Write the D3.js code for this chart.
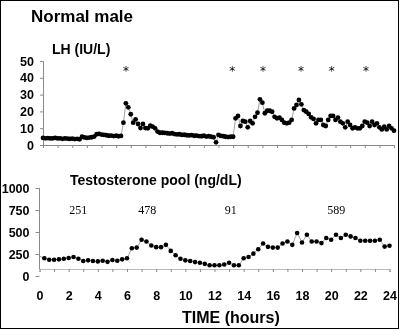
<!DOCTYPE html>
<html><head><meta charset="utf-8">
<script src="https://cdn.jsdelivr.net/npm/d3@7"></script>
<style>
html,body{margin:0;padding:0;background:#fff;}
svg{display:block;will-change:transform;}
</style></head>
<body>
<svg id="c" width="400" height="330"></svg>
<script>
// ---------- DATA ----------
// LH (IU/L), sampled every 10 minutes from 0 h to 24 h
const lhStepHours = 1/6;
const lhValues = [
 4.2,4.0,4.1,3.9,4.0,4.2,3.9,4.0,3.7,3.9,3.8,3.6,3.8,3.5,3.7,3.4,
 4.9,4.5,4.2,4.4,4.6,5.0,6.4,6.6,6.2,6.0,5.8,5.5,5.6,5.3,5.5,5.2,
 5.4,13.3,24.8,22.4,18.3,13.3,15.3,12.5,10.1,12.5,10.1,9.9,11.5,10.9,9.9,8.0,
 7.3,7.3,7.2,7.0,6.8,7.0,6.5,6.3,6.4,6.0,6.1,5.8,5.7,5.9,5.5,5.6,
 5.3,5.2,5.5,5.0,5.2,4.9,4.6,1.6,6.0,5.4,5.2,4.9,4.7,4.9,4.9,15.9,
 17.3,11.3,14.3,13.9,10.5,14.3,12.9,16.8,19.2,27.2,25.2,18.9,20.4,20.4,19.8,16.8,
 15.9,16.3,14.9,13.3,12.9,13.3,14.9,21.8,23.8,26.8,24.2,20.8,19.8,18.5,16.5,15.5,
 12.9,14.9,14.9,11.9,11.3,14.9,17.3,17.3,14.9,16.3,13.9,12.9,10.5,13.9,11.9,9.9,
 10.5,9.9,9.9,11.3,13.9,13.3,11.3,13.9,11.9,12.9,10.5,9.3,10.9,9.3,11.3,9.9,8.5
];
// LH pulses marked with *
const pulseHours = [5.68, 12.94, 15.04, 17.64, 19.74, 22.09];

// Testosterone pool (ng/dL), sampled every 20 minutes from 0 h to 24 h
const tStepHours = 1/3;
const tValues = [
 225,201,185,185,189,196,204,216,196,170,178,170,166,173,161,181,173,189,201,
 316,323,412,392,346,328,328,354,285,235,196,178,170,158,150,138,123,123,123,131,
 150,123,123,201,216,254,304,369,331,323,323,369,392,354,489,381,469,392,392,374,
 431,412,469,431,469,450,431,400,400,400,400,412,334,343
];
// Annotations above the testosterone curve
const annoLabels = ["251", "478", "91", "589"];
const annoHours = [2.66, 7.39, 13.11, 20.34];
const annoLevel = 750;

const lhTicks = [0,10,20,30,40,50];
const tTicks = [0,250,500,750,1000];
const hourTicks = d3.range(0, 25, 1);
const hourLabels = d3.range(0, 25, 2);

// ---------- DRAW ----------
const svg = d3.select("#c");
const axisGray = "#8a8a8a";
const lineGray = "#8a8a8a";
const boldFont = "'Liberation Sans', Arial, sans-serif";
const serifFont = "'Liberation Serif', 'Times New Roman', serif";

// frame
svg.append("rect").attr("x",0.5).attr("y",0.5).attr("width",398).attr("height",328)
  .attr("fill","none").attr("stroke","#000").attr("stroke-width",1);

svg.append("text").attr("x",31).attr("y",22).attr("font-family",boldFont)
  .attr("font-weight","bold").attr("font-size",17).text("Normal male");

// ---------- LH panel ----------
const lhData = lhValues.map((v,i)=>({t:i*lhStepHours, v}));
const x1 = d3.scaleLinear().domain([0,24]).range([43,394]);
const y1 = d3.scaleLinear().domain([0,50]).range([145,61]);

svg.append("text").attr("x",52).attr("y",53.5).attr("font-family",boldFont)
  .attr("font-weight","bold").attr("font-size",14).text("LH (IU/L)");

// x axis (no labels)
const gx1 = svg.append("g").attr("transform","translate(0,145)")
  .call(d3.axisBottom(x1).tickValues(hourTicks).tickSize(3).tickFormat(""));
gx1.selectAll("path,line").attr("stroke",axisGray);
// y axis
const gy1 = svg.append("g").attr("transform","translate(43,0)")
  .call(d3.axisLeft(y1).tickValues(lhTicks).tickSize(3).tickPadding(6));
gy1.selectAll("path,line").attr("stroke",axisGray);
gy1.selectAll("text").attr("font-family",boldFont).attr("font-weight","bold")
  .attr("font-size",12.5).attr("fill","#000");

svg.append("path").datum(lhData)
  .attr("d", d3.line().x(d=>x1(d.t)).y(d=>y1(d.v)))
  .attr("fill","none").attr("stroke",lineGray).attr("stroke-width",0.8);
svg.append("g").selectAll("circle").data(lhData).join("circle")
  .attr("cx",d=>x1(d.t)).attr("cy",d=>y1(d.v)).attr("r",2.4).attr("fill","#000");

svg.append("g").attr("opacity",0.99).selectAll("text").data(pulseHours).join("text")
  .attr("x",d=>x1(d)).attr("y",y1(46)+7).attr("text-anchor","middle")
  .attr("font-family","'DejaVu Sans', sans-serif").attr("font-size",12)
  .attr("fill","#000").text("*");

// ---------- Testosterone panel ----------
const tData = tValues.map((v,i)=>({t:i*tStepHours, v}));
const x2 = d3.scaleLinear().domain([0,24]).range([39.5,389.5]);
const y2 = d3.scaleLinear().domain([0,1000]).range([276,188]);
const axisY2 = 269;

svg.append("text").attr("x",70).attr("y",185).attr("font-family",boldFont)
  .attr("font-weight","bold").attr("font-size",14).text("Testosterone pool (ng/dL)");

const gx2 = svg.append("g").attr("transform",`translate(0,${axisY2})`)
  .call(d3.axisBottom(x2).tickValues(hourTicks).tickSize(3).tickFormat(""));
gx2.selectAll("path,line").attr("stroke",axisGray);
gx2.select("path").attr("stroke-dasharray","1,1").attr("stroke","#777");
const gx2l = svg.append("g").attr("transform",`translate(0,${axisY2})`)
  .call(d3.axisBottom(x2).tickValues(hourLabels).tickSize(0).tickPadding(22));
gx2l.select("path").remove();
gx2l.selectAll("text").attr("font-family",boldFont).attr("font-weight","bold")
  .attr("font-size",12.5).attr("fill","#000");

const gy2 = svg.append("g").attr("transform","translate(39.5,0)")
  .call(d3.axisLeft(y2).tickValues(tTicks).tickFormat(d3.format("d")).tickSize(4).tickPadding(6));
gy2.select("path").remove();
gy2.selectAll("line").attr("stroke",axisGray);
gy2.selectAll("text").attr("font-family",boldFont).attr("font-weight","bold")
  .attr("font-size",12.5).attr("fill","#000");
svg.append("line").attr("x1",39.5).attr("x2",39.5).attr("y1",y2(1000)).attr("y2",axisY2)
  .attr("stroke",axisGray);

svg.append("path").datum(tData)
  .attr("d", d3.line().x(d=>x2(d.t)).y(d=>y2(d.v)))
  .attr("fill","none").attr("stroke",lineGray).attr("stroke-width",0.8);
svg.append("g").selectAll("circle").data(tData.slice(1)).join("circle")
  .attr("cx",d=>x2(d.t)).attr("cy",d=>y2(d.v)).attr("r",2.3).attr("fill","#000");

svg.append("g").attr("opacity",0.99).selectAll("text").data(annoLabels).join("text")
  .attr("x",(d,i)=>x2(annoHours[i])).attr("y",y2(annoLevel)+4).attr("text-anchor","middle")
  .attr("font-family",serifFont).attr("font-size",12).attr("fill","#000").text(d=>d);

svg.append("text").attr("x",182).attr("y",323).attr("font-family",boldFont)
  .attr("font-weight","bold").attr("font-size",16).text("TIME (hours)");
</script>
</body></html>
